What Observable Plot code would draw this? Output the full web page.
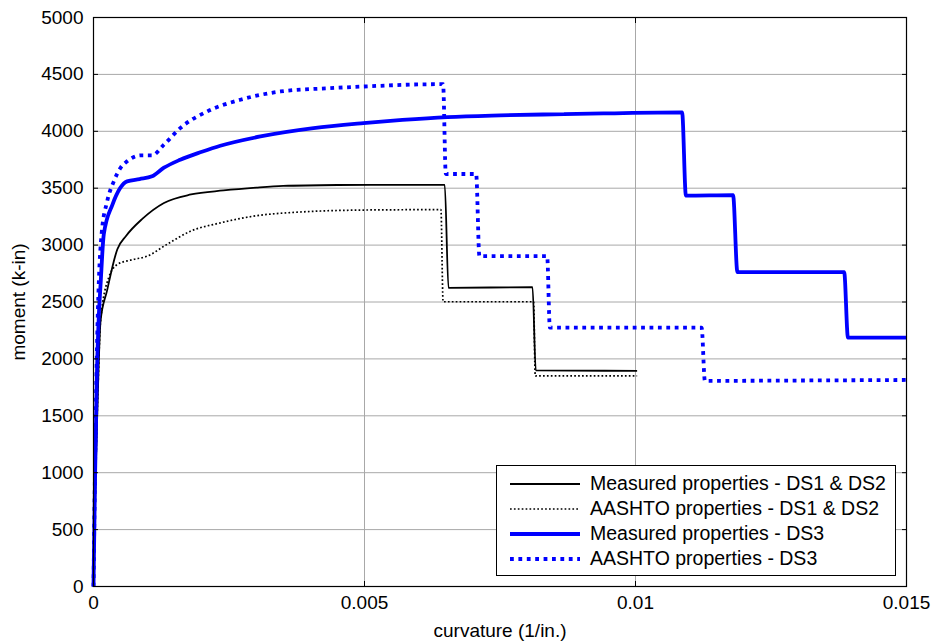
<!DOCTYPE html>
<html>
<head>
<meta charset="utf-8">
<script src="https://cdn.jsdelivr.net/npm/d3@7"></script>
<script src="https://cdn.jsdelivr.net/npm/@observablehq/plot@0.6"></script>
<style>
  body { margin: 0; background: #fff; }
  #wrap { position: relative; width: 933px; height: 643px; font-family: "Liberation Sans", Arial, sans-serif; }
  #legend { position: absolute; left: 496px; top: 465px; width: 398px; height: 109px; border: 1px solid #000; background: #fff; }
  .row { position: absolute; left: 0; height: 25px; display: flex; align-items: center; font-size: 19.5px; color: #000; white-space: nowrap; }
  .row svg { margin-left: 13px; margin-right: 10px; }
</style>
</head>
<body>
<div id="wrap"><div id="legend"></div></div>
<script>
// ---- data ----
const seriesNames = [
  "Measured properties - DS1 & DS2",
  "AASHTO properties - DS1 & DS2",
  "Measured properties - DS3",
  "AASHTO properties - DS3"
];

const measDS12_curv = [0, 0.00004, 0.00008, 0.00013, 0.00025, 0.00044, 0.0006, 0.0009, 0.0013, 0.0018, 0.0024, 0.003, 0.0035, 0.0045, 0.0055, 0.00648, 0.00655, 0.0081, 0.00816, 0.01003];
const measDS12_mom  = [0, 1000, 1700, 2333, 2600, 2964, 3080, 3230, 3370, 3445, 3480, 3505, 3520, 3528, 3530, 3530, 2625, 2630, 1900, 1895];

const aashDS12_curv = [0, 0.00004, 0.00008, 0.00013, 0.00028, 0.00044, 0.0007, 0.00099, 0.00136, 0.00179, 0.00234, 0.00295, 0.00382, 0.00468, 0.0055, 0.00641, 0.00645, 0.00812, 0.00815, 0.01003];
const aashDS12_mom  = [0, 1000, 1700, 2333, 2713, 2830, 2870, 2903, 3008, 3122, 3195, 3254, 3291, 3306, 3310, 3312, 2502, 2502, 1850, 1850];

const measDS3_curv = [0, 0.00003, 0.00006, 0.0001, 0.00013, 0.00019, 0.00035, 0.00062, 0.00085, 0.00108, 0.0013, 0.0016, 0.002, 0.00234, 0.00308, 0.00406, 0.00498, 0.0057, 0.00653, 0.0075, 0.00868, 0.0095, 0.01086, 0.01093, 0.0118, 0.01188, 0.01385, 0.01392, 0.015];
const measDS3_mom  = [0, 1000, 1800, 2400, 2650, 3095, 3356, 3560, 3580, 3604, 3680, 3750, 3820, 3873, 3955, 4028, 4072, 4100, 4125, 4140, 4151, 4158, 4166, 3435, 3440, 2763, 2763, 2187, 2187];

const aashDS3_curv = [0, 0.00003, 0.00006, 0.0001, 0.00015, 0.00025, 0.000375, 0.0005, 0.00062, 0.00087, 0.00108, 0.0013, 0.0016, 0.0021, 0.00271, 0.00345, 0.00437, 0.0053, 0.006, 0.00645, 0.0065, 0.00706, 0.00712, 0.00837, 0.00842, 0.01122, 0.01128, 0.013, 0.015];
const aashDS3_mom  = [0, 1100, 2000, 2700, 3100, 3380, 3560, 3680, 3736, 3789, 3789, 3882, 4028, 4175, 4277, 4350, 4379, 4400, 4412, 4414, 3625, 3625, 2903, 2903, 2274, 2274, 1807, 1810, 1815];

const xTicks = [0, 0.005, 0.01, 0.015];
const yTicks = [0, 500, 1000, 1500, 2000, 2500, 3000, 3500, 4000, 4500, 5000];
const xLabel = "curvature (1/in.)";
const yLabel = "moment (k-in)";

// ---- build tables ----
const toRows = (xs, ys) => xs.map((x, i) => ({x, y: ys[i]}));
const d1 = toRows(measDS12_curv, measDS12_mom);
const d2 = toRows(aashDS12_curv, aashDS12_mom);
const d3s = toRows(measDS3_curv, measDS3_mom);
const d4 = toRows(aashDS3_curv, aashDS3_mom);

const styles = [
  {stroke: "#000", strokeWidth: 1.8, dash: null},
  {stroke: "#000", strokeWidth: 1.7, dash: "1.7,2.2"},
  {stroke: "#0000ff", strokeWidth: 3.8, dash: null},
  {stroke: "#0000ff", strokeWidth: 3.8, dash: "3.8,4.6"}
];

const fmt = d => String(d);

const chart = Plot.plot({
  width: 933,
  height: 643,
  marginLeft: 93,
  marginRight: 27,
  marginTop: 17,
  marginBottom: 57,
  style: {fontFamily: "'Liberation Sans', Arial, sans-serif", fontSize: "19px", color: "#000", background: "#fff", overflow: "visible"},
  x: {domain: [0, 0.015]},
  y: {domain: [0, 5000]},
  marks: [
    Plot.gridX(xTicks, {stroke: "#a8a8a8", strokeOpacity: 1, strokeWidth: 1}),
    Plot.gridY(yTicks, {stroke: "#a8a8a8", strokeOpacity: 1, strokeWidth: 1}),
    ...[d1, d2, d3s, d4].map((d, i) => Plot.line(d, {
      x: "x", y: "y",
      stroke: styles[i].stroke,
      strokeWidth: styles[i].strokeWidth,
      strokeDasharray: styles[i].dash,
      strokeLinejoin: "miter",
      strokeLinecap: "butt",
      curve: "monotone-x"
    })),
    Plot.frame({stroke: "#000", strokeWidth: 1.2}),
    Plot.axisX(xTicks, {anchor: "bottom", tickSize: -5, tickPadding: 14, tickFormat: fmt, label: xLabel, labelArrow: "none", labelAnchor: "center", labelOffset: 50}),
    Plot.axisX(xTicks, {anchor: "top", tickSize: -5, tickFormat: () => "", label: null}),
    Plot.axisY(yTicks, {anchor: "left", tickSize: -5, tickPadding: 15, tickFormat: fmt, label: yLabel, labelArrow: "none", labelAnchor: "center", labelOffset: 82}),
    Plot.axisY(yTicks, {anchor: "right", tickSize: -5, tickFormat: () => "", label: null})
  ]
});
document.getElementById("wrap").prepend(chart);

// ---- legend ----
const legend = document.getElementById("legend");
seriesNames.forEach((name, i) => {
  const row = document.createElement("div");
  row.className = "row";
  row.style.top = (5 + i * 25) + "px";
  const s = styles[i];
  row.innerHTML = `<svg width="70" height="10"><line x1="0" x2="70" y1="5" y2="5" stroke="${s.stroke}" stroke-width="${s.strokeWidth}" ${s.dash ? `stroke-dasharray="${s.dash}"` : ""}/></svg><span>${name.replace(/&/g, "&amp;")}</span>`;
  legend.appendChild(row);
});
</script>
</body>
</html>
